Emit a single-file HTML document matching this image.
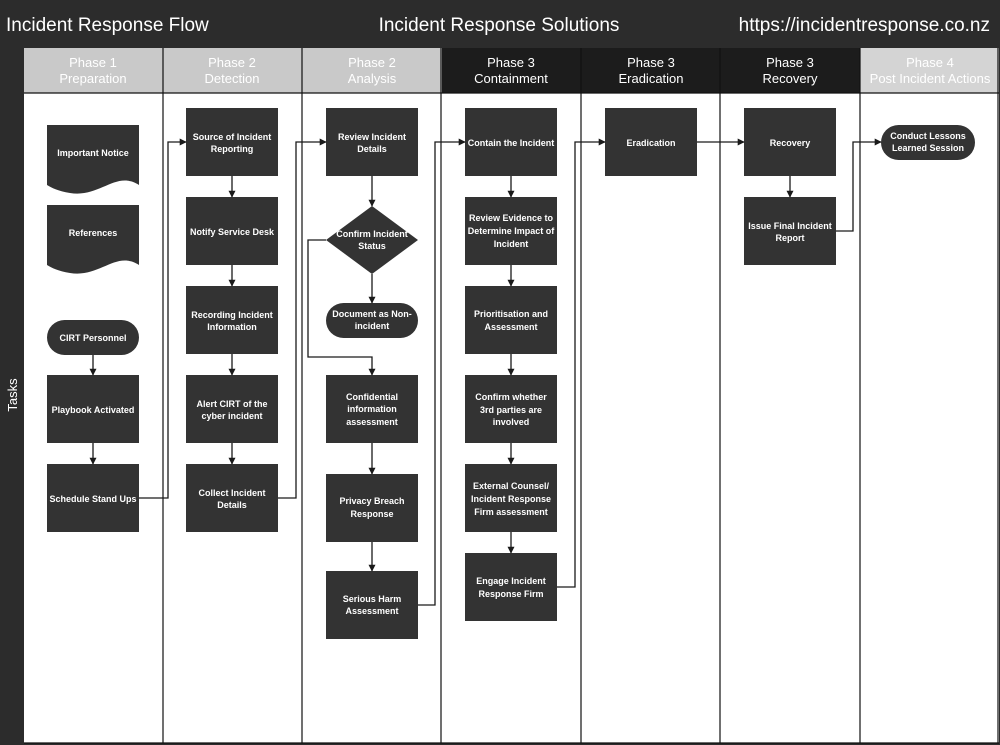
<!DOCTYPE html>
<html><head><meta charset="utf-8"><style>
html,body{margin:0;padding:0;background:#fff;}
svg{display:block;font-family:"Liberation Sans",sans-serif;}
.n{fill:#333;}
.t{fill:#fff;font-size:9px;font-weight:bold;text-anchor:middle;}
.h{font-size:13px;text-anchor:middle;}
.c{stroke:#1a1a1a;stroke-width:1.3;fill:none;}
</style></head><body>
<svg width="1000" height="745" viewBox="0 0 1000 745" xmlns="http://www.w3.org/2000/svg">
<defs><marker id="a" viewBox="0 0 10 10" refX="9" refY="5" markerWidth="7" markerHeight="7" orient="auto" markerUnits="userSpaceOnUse"><path d="M0,0L10,5L0,10z" fill="#1a1a1a"/></marker></defs>
<rect x="0" y="0" width="1000" height="745" fill="#2c2c2c"/>
<rect x="24" y="48" width="975" height="695" fill="#fff"/>
<text x="6" y="31" fill="#fff" font-size="19">Incident Response Flow</text>
<text x="499" y="31" fill="#fff" font-size="19" text-anchor="middle">Incident Response Solutions</text>
<text x="990" y="31" fill="#fff" font-size="19" text-anchor="end">https://incidentresponse.co.nz</text>
<text transform="translate(17,395) rotate(-90)" fill="#fff" font-size="13" text-anchor="middle">Tasks</text>
<!-- headers -->
<rect x="24" y="48" width="418" height="45" fill="#c9c9c9"/>
<rect x="442" y="48" width="418" height="45" fill="#1c1c1c"/>
<rect x="860" y="48" width="139" height="45" fill="#d4d4d4"/>
<g class="h" fill="#fff">
<text x="93" y="67">Phase 1</text><text x="93" y="83">Preparation</text>
<text x="232" y="67">Phase 2</text><text x="232" y="83">Detection</text>
<text x="372" y="67">Phase 2</text><text x="372" y="83">Analysis</text>
<text x="511" y="67">Phase 3</text><text x="511" y="83">Containment</text>
<text x="651" y="67">Phase 3</text><text x="651" y="83">Eradication</text>
<text x="790" y="67">Phase 3</text><text x="790" y="83">Recovery</text>
<text x="930" y="67">Phase 4</text><text x="930" y="83">Post Incident Actions</text>
</g>
<line x1="24" y1="93" x2="999" y2="93" stroke="#111" stroke-width="1.3"/>
<g stroke="#111" stroke-width="1.2">
<line x1="163" y1="48" x2="163" y2="743"/><line x1="302" y1="48" x2="302" y2="743"/>
<line x1="441" y1="48" x2="441" y2="743"/><line x1="581" y1="48" x2="581" y2="743"/>
<line x1="720" y1="48" x2="720" y2="743"/><line x1="860" y1="48" x2="860" y2="743"/>
<line x1="998" y1="48" x2="998" y2="743"/><line x1="24" y1="743" x2="999" y2="743"/>
</g>
<!-- col1 -->
<path class="n" d="M47,125H139V185C116,170 100,198 70,193C58,191 52,188 47,185Z"/>
<text class="t" x="93" y="156">Important Notice</text>
<path class="n" d="M47,205H139V265C116,250 100,278 70,273C58,271 52,268 47,265Z"/>
<text class="t" x="93" y="236">References</text>
<rect class="n" x="47" y="320" width="92" height="35" rx="17.5"/>
<text class="t" x="93" y="341">CIRT Personnel</text>
<rect class="n" x="47" y="375" width="92" height="68"/><text class="t" x="93" y="413">Playbook Activated</text>
<rect class="n" x="47" y="464" width="92" height="68"/><text class="t" x="93" y="502">Schedule Stand Ups</text>
<!-- col2 -->
<rect class="n" x="186" y="108" width="92" height="68"/><text class="t" x="232" y="140">Source of Incident</text><text class="t" x="232" y="152">Reporting</text>
<rect class="n" x="186" y="197" width="92" height="68"/><text class="t" x="232" y="235">Notify Service Desk</text>
<rect class="n" x="186" y="286" width="92" height="68"/><text class="t" x="232" y="318">Recording Incident</text><text class="t" x="232" y="330">Information</text>
<rect class="n" x="186" y="375" width="92" height="68"/><text class="t" x="232" y="407">Alert CIRT of the</text><text class="t" x="232" y="419">cyber incident</text>
<rect class="n" x="186" y="464" width="92" height="68"/><text class="t" x="232" y="496">Collect Incident</text><text class="t" x="232" y="508">Details</text>
<!-- col3 -->
<rect class="n" x="326" y="108" width="92" height="68"/><text class="t" x="372" y="140">Review Incident</text><text class="t" x="372" y="152">Details</text>
<path class="n" d="M372,206L418,240L372,274L326,240Z"/><text class="t" x="372" y="237">Confirm Incident</text><text class="t" x="372" y="249">Status</text>
<rect class="n" x="326" y="303" width="92" height="35" rx="17.5"/><text class="t" x="372" y="317">Document as Non-</text><text class="t" x="372" y="329">incident</text>
<rect class="n" x="326" y="375" width="92" height="68"/><text class="t" x="372" y="400">Confidential</text><text class="t" x="372" y="412">information</text><text class="t" x="372" y="425">assessment</text>
<rect class="n" x="326" y="474" width="92" height="68"/><text class="t" x="372" y="504">Privacy Breach</text><text class="t" x="372" y="517">Response</text>
<rect class="n" x="326" y="571" width="92" height="68"/><text class="t" x="372" y="602">Serious Harm</text><text class="t" x="372" y="614">Assessment</text>
<!-- col4 -->
<rect class="n" x="465" y="108" width="92" height="68"/><text class="t" x="511" y="146">Contain the Incident</text>
<rect class="n" x="465" y="197" width="92" height="68"/><text class="t" x="511" y="221">Review Evidence to</text><text class="t" x="511" y="234">Determine Impact of</text><text class="t" x="511" y="247">Incident</text>
<rect class="n" x="465" y="286" width="92" height="68"/><text class="t" x="511" y="317">Prioritisation and</text><text class="t" x="511" y="330">Assessment</text>
<rect class="n" x="465" y="375" width="92" height="68"/><text class="t" x="511" y="400">Confirm whether</text><text class="t" x="511" y="413">3rd parties are</text><text class="t" x="511" y="425">involved</text>
<rect class="n" x="465" y="464" width="92" height="68"/><text class="t" x="511" y="489">External Counsel/</text><text class="t" x="511" y="502">Incident Response</text><text class="t" x="511" y="515">Firm assessment</text>
<rect class="n" x="465" y="553" width="92" height="68"/><text class="t" x="511" y="584">Engage Incident</text><text class="t" x="511" y="597">Response Firm</text>
<!-- col5,6,7 -->
<rect class="n" x="605" y="108" width="92" height="68"/><text class="t" x="651" y="146">Eradication</text>
<rect class="n" x="744" y="108" width="92" height="68"/><text class="t" x="790" y="146">Recovery</text>
<rect class="n" x="744" y="197" width="92" height="68"/><text class="t" x="790" y="229">Issue Final Incident</text><text class="t" x="790" y="241">Report</text>
<rect class="n" x="881" y="125" width="94" height="35" rx="17.5"/><text class="t" x="928" y="139">Conduct Lessons</text><text class="t" x="928" y="151">Learned Session</text>
<!-- connectors -->
<g class="c" marker-end="url(#a)">
<path d="M93,355V375"/><path d="M93,443V464"/>
<path d="M139,498H168V142H186"/>
<path d="M232,176V197"/><path d="M232,265V286"/><path d="M232,354V375"/><path d="M232,443V464"/>
<path d="M278,498H296V142H326"/>
<path d="M372,176V206"/><path d="M372,274V303"/>
<path d="M326,240H308V357H372V375"/>
<path d="M372,443V474"/><path d="M372,542V571"/>
<path d="M418,605H435V142H465"/>
<path d="M511,176V197"/><path d="M511,265V286"/><path d="M511,354V375"/><path d="M511,443V464"/><path d="M511,532V553"/>
<path d="M557,587H575V142H605"/>
<path d="M697,142H744"/>
<path d="M790,176V197"/>
<path d="M836,231H853V142H881"/>
</g>
</svg>
</body></html>
